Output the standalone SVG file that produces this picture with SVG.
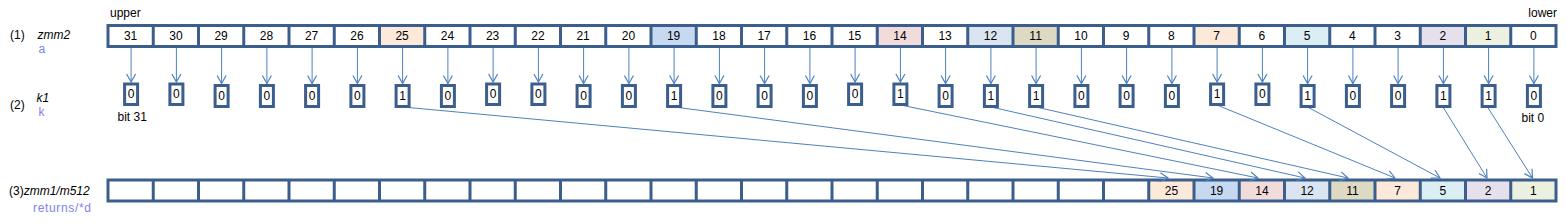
<svg xmlns="http://www.w3.org/2000/svg" width="1566" height="224" viewBox="0 0 1566 224">
<defs>
<marker id="ah" markerUnits="userSpaceOnUse" markerWidth="14" markerHeight="14" viewBox="-10 -7 12 14" refX="0" refY="0" orient="auto">
<path d="M-8,-4.5 L0,0 L-8,4.5" fill="none" stroke="#4F81BD" stroke-width="1.2"/>
</marker>
<style>
text{font-family:"Liberation Sans",Arial,sans-serif;font-size:12px;fill:#000}
.c{text-anchor:middle}
.i{font-style:italic}
.p{fill:#8080F0}
.reg{fill:none;stroke:#3B5E8C;stroke-width:3}
.bx{fill:#fff;stroke:#3B5E8C;stroke-width:3}
.cn line{stroke:#4F81BD;stroke-width:1;fill:none}
</style>
</defs>
<rect width="1566" height="224" fill="#fff"/>

<g id="labels">
<text x="10" y="38.5">(1)</text>
<text x="37.5" y="38.5" class="i">zmm2</text>
<text x="38.5" y="53" class="p">a</text>
<text x="10" y="108.5">(2)</text>
<text x="36.5" y="102" class="i">k1</text>
<text x="38.5" y="116" class="p">k</text>
<text x="9" y="194.5">(3)<tspan class="i">zmm1/m512</tspan></text>
<text x="33" y="211.5" class="p" textLength="58" lengthAdjust="spacing">returns/*d</text>
<text x="110" y="17">upper</text>
<text x="1557" y="17" text-anchor="end">lower</text>
<text x="117.5" y="121">bit 31</text>
<text x="1521.5" y="121.5">bit 0</text>
</g>

<g id="zmm2">
<rect x="379.5" y="25.5" width="45.25" height="21" fill="#FDE9D9"/>
<rect x="651" y="25.5" width="45.25" height="21" fill="#C6D9F1"/>
<rect x="877.25" y="25.5" width="45.25" height="21" fill="#F2DCDB"/>
<rect x="967.75" y="25.5" width="45.25" height="21" fill="#DBE5F1"/>
<rect x="1013" y="25.5" width="45.25" height="21" fill="#DDD9C3"/>
<rect x="1194" y="25.5" width="45.25" height="21" fill="#FDE9D9"/>
<rect x="1284.5" y="25.5" width="45.25" height="21" fill="#DAEEF3"/>
<rect x="1420.25" y="25.5" width="45.25" height="21" fill="#E5E0EC"/>
<rect x="1465.5" y="25.5" width="45.25" height="21" fill="#EBF1DE"/>
<rect class="reg" x="108" y="25.5" width="1448" height="21"/>
<path class="reg" d="M153.25,25.5V46.5M198.5,25.5V46.5M243.75,25.5V46.5M289,25.5V46.5M334.25,25.5V46.5M379.5,25.5V46.5M424.75,25.5V46.5M470,25.5V46.5M515.25,25.5V46.5M560.5,25.5V46.5M605.75,25.5V46.5M651,25.5V46.5M696.25,25.5V46.5M741.5,25.5V46.5M786.75,25.5V46.5M832,25.5V46.5M877.25,25.5V46.5M922.5,25.5V46.5M967.75,25.5V46.5M1013,25.5V46.5M1058.25,25.5V46.5M1103.5,25.5V46.5M1148.75,25.5V46.5M1194,25.5V46.5M1239.25,25.5V46.5M1284.5,25.5V46.5M1329.75,25.5V46.5M1375,25.5V46.5M1420.25,25.5V46.5M1465.5,25.5V46.5M1510.75,25.5V46.5"/>
<text class="c" x="130.6" y="40">31</text>
<text class="c" x="175.9" y="40">30</text>
<text class="c" x="221.1" y="40">29</text>
<text class="c" x="266.4" y="40">28</text>
<text class="c" x="311.6" y="40">27</text>
<text class="c" x="356.9" y="40">26</text>
<text class="c" x="402.1" y="40">25</text>
<text class="c" x="447.4" y="40">24</text>
<text class="c" x="492.6" y="40">23</text>
<text class="c" x="537.9" y="40">22</text>
<text class="c" x="583.1" y="40">21</text>
<text class="c" x="628.4" y="40">20</text>
<text class="c" x="673.6" y="40">19</text>
<text class="c" x="718.9" y="40">18</text>
<text class="c" x="764.1" y="40">17</text>
<text class="c" x="809.4" y="40">16</text>
<text class="c" x="854.6" y="40">15</text>
<text class="c" x="899.9" y="40">14</text>
<text class="c" x="945.1" y="40">13</text>
<text class="c" x="990.4" y="40">12</text>
<text class="c" x="1035.6" y="40">11</text>
<text class="c" x="1080.9" y="40">10</text>
<text class="c" x="1126.1" y="40">9</text>
<text class="c" x="1171.4" y="40">8</text>
<text class="c" x="1216.6" y="40">7</text>
<text class="c" x="1261.9" y="40">6</text>
<text class="c" x="1307.1" y="40">5</text>
<text class="c" x="1352.4" y="40">4</text>
<text class="c" x="1397.6" y="40">3</text>
<text class="c" x="1442.9" y="40">2</text>
<text class="c" x="1488.1" y="40">1</text>
<text class="c" x="1533.4" y="40">0</text>
</g>

<g id="zmm1">
<rect x="1148.75" y="180" width="45.25" height="21" fill="#FDE9D9"/>
<rect x="1194" y="180" width="45.25" height="21" fill="#C6D9F1"/>
<rect x="1239.25" y="180" width="45.25" height="21" fill="#F2DCDB"/>
<rect x="1284.5" y="180" width="45.25" height="21" fill="#DBE5F1"/>
<rect x="1329.75" y="180" width="45.25" height="21" fill="#DDD9C3"/>
<rect x="1375" y="180" width="45.25" height="21" fill="#FDE9D9"/>
<rect x="1420.25" y="180" width="45.25" height="21" fill="#DAEEF3"/>
<rect x="1465.5" y="180" width="45.25" height="21" fill="#E5E0EC"/>
<rect x="1510.75" y="180" width="45.25" height="21" fill="#EBF1DE"/>
<rect class="reg" x="108" y="180" width="1448" height="21"/>
<path class="reg" d="M153.25,180V201M198.5,180V201M243.75,180V201M289,180V201M334.25,180V201M379.5,180V201M424.75,180V201M470,180V201M515.25,180V201M560.5,180V201M605.75,180V201M651,180V201M696.25,180V201M741.5,180V201M786.75,180V201M832,180V201M877.25,180V201M922.5,180V201M967.75,180V201M1013,180V201M1058.25,180V201M1103.5,180V201M1148.75,180V201M1194,180V201M1239.25,180V201M1284.5,180V201M1329.75,180V201M1375,180V201M1420.25,180V201M1465.5,180V201M1510.75,180V201"/>
<text class="c" x="1171.4" y="195">25</text>
<text class="c" x="1216.6" y="195">19</text>
<text class="c" x="1261.9" y="195">14</text>
<text class="c" x="1307.1" y="195">12</text>
<text class="c" x="1352.4" y="195">11</text>
<text class="c" x="1397.6" y="195">7</text>
<text class="c" x="1442.9" y="195">5</text>
<text class="c" x="1488.1" y="195">2</text>
<text class="c" x="1533.4" y="195">1</text>
</g>

<g id="connectors" class="cn">
<line x1="131.1" y1="48" x2="131.1" y2="82" marker-end="url(#ah)"/>
<line x1="176.4" y1="48" x2="176.4" y2="82" marker-end="url(#ah)"/>
<line x1="221.6" y1="48" x2="221.6" y2="83.5" marker-end="url(#ah)"/>
<line x1="266.9" y1="48" x2="266.9" y2="83.5" marker-end="url(#ah)"/>
<line x1="312.1" y1="48" x2="312.1" y2="83.5" marker-end="url(#ah)"/>
<line x1="357.4" y1="48" x2="357.4" y2="83.5" marker-end="url(#ah)"/>
<line x1="402.6" y1="48" x2="402.6" y2="83.5" marker-end="url(#ah)"/>
<line x1="447.9" y1="48" x2="447.9" y2="83.5" marker-end="url(#ah)"/>
<line x1="493.1" y1="48" x2="493.1" y2="82" marker-end="url(#ah)"/>
<line x1="538.4" y1="48" x2="538.4" y2="82" marker-end="url(#ah)"/>
<line x1="583.6" y1="48" x2="583.6" y2="83.5" marker-end="url(#ah)"/>
<line x1="628.9" y1="48" x2="628.9" y2="83.5" marker-end="url(#ah)"/>
<line x1="674.1" y1="48" x2="674.1" y2="83.5" marker-end="url(#ah)"/>
<line x1="719.4" y1="48" x2="719.4" y2="83.5" marker-end="url(#ah)"/>
<line x1="764.6" y1="48" x2="764.6" y2="83.5" marker-end="url(#ah)"/>
<line x1="809.9" y1="48" x2="809.9" y2="83.5" marker-end="url(#ah)"/>
<line x1="855.1" y1="48" x2="855.1" y2="82" marker-end="url(#ah)"/>
<line x1="900.4" y1="48" x2="900.4" y2="82" marker-end="url(#ah)"/>
<line x1="945.6" y1="48" x2="945.6" y2="83.5" marker-end="url(#ah)"/>
<line x1="990.9" y1="48" x2="990.9" y2="83.5" marker-end="url(#ah)"/>
<line x1="1036.1" y1="48" x2="1036.1" y2="83.5" marker-end="url(#ah)"/>
<line x1="1081.4" y1="48" x2="1081.4" y2="83.5" marker-end="url(#ah)"/>
<line x1="1126.6" y1="48" x2="1126.6" y2="83.5" marker-end="url(#ah)"/>
<line x1="1171.9" y1="48" x2="1171.9" y2="83.5" marker-end="url(#ah)"/>
<line x1="1217.1" y1="48" x2="1217.1" y2="82" marker-end="url(#ah)"/>
<line x1="1262.4" y1="48" x2="1262.4" y2="82" marker-end="url(#ah)"/>
<line x1="1307.6" y1="48" x2="1307.6" y2="83.5" marker-end="url(#ah)"/>
<line x1="1352.9" y1="48" x2="1352.9" y2="83.5" marker-end="url(#ah)"/>
<line x1="1398.1" y1="48" x2="1398.1" y2="83.5" marker-end="url(#ah)"/>
<line x1="1443.4" y1="48" x2="1443.4" y2="83.5" marker-end="url(#ah)"/>
<line x1="1488.6" y1="48" x2="1488.6" y2="83.5" marker-end="url(#ah)"/>
<line x1="1533.9" y1="48" x2="1533.9" y2="83.5" marker-end="url(#ah)"/>
<line x1="403" y1="107" x2="1168" y2="178" marker-end="url(#ah)"/>
<line x1="674.5" y1="107" x2="1213" y2="178" marker-end="url(#ah)"/>
<line x1="900.5" y1="105" x2="1258" y2="178" marker-end="url(#ah)"/>
<line x1="991" y1="107" x2="1305" y2="178" marker-end="url(#ah)"/>
<line x1="1036" y1="107" x2="1348" y2="178" marker-end="url(#ah)"/>
<line x1="1217" y1="105" x2="1395" y2="178" marker-end="url(#ah)"/>
<line x1="1307.5" y1="107" x2="1440" y2="178" marker-end="url(#ah)"/>
<line x1="1443" y1="107" x2="1487" y2="178" marker-end="url(#ah)"/>
<line x1="1487.5" y1="107" x2="1532.5" y2="178" marker-end="url(#ah)"/>
</g>

<g id="k1">
<g id="k31"><rect class="bx" x="124.6" y="84" width="13" height="20.5"/><text class="c" x="131.1" y="98">0</text></g>
<g id="k30"><rect class="bx" x="169.9" y="84" width="13" height="20.5"/><text class="c" x="176.4" y="98">0</text></g>
<g id="k29"><rect class="bx" x="215.1" y="85.5" width="13" height="21"/><text class="c" x="221.6" y="100">0</text></g>
<g id="k28"><rect class="bx" x="260.4" y="85.5" width="13" height="21"/><text class="c" x="266.9" y="100">0</text></g>
<g id="k27"><rect class="bx" x="305.6" y="85.5" width="13" height="21"/><text class="c" x="312.1" y="100">0</text></g>
<g id="k26"><rect class="bx" x="350.9" y="85.5" width="13" height="21"/><text class="c" x="357.4" y="100">0</text></g>
<g id="k25"><rect class="bx" x="396.1" y="85.5" width="13" height="21"/><text class="c" x="402.6" y="100">1</text></g>
<g id="k24"><rect class="bx" x="441.4" y="85.5" width="13" height="21"/><text class="c" x="447.9" y="100">0</text></g>
<g id="k23"><rect class="bx" x="486.6" y="84" width="13" height="20.5"/><text class="c" x="493.1" y="98">0</text></g>
<g id="k22"><rect class="bx" x="531.9" y="84" width="13" height="20.5"/><text class="c" x="538.4" y="98">0</text></g>
<g id="k21"><rect class="bx" x="577.1" y="85.5" width="13" height="21"/><text class="c" x="583.6" y="100">0</text></g>
<g id="k20"><rect class="bx" x="622.4" y="85.5" width="13" height="21"/><text class="c" x="628.9" y="100">0</text></g>
<g id="k19"><rect class="bx" x="667.6" y="85.5" width="13" height="21"/><text class="c" x="674.1" y="100">1</text></g>
<g id="k18"><rect class="bx" x="712.9" y="85.5" width="13" height="21"/><text class="c" x="719.4" y="100">0</text></g>
<g id="k17"><rect class="bx" x="758.1" y="85.5" width="13" height="21"/><text class="c" x="764.6" y="100">0</text></g>
<g id="k16"><rect class="bx" x="803.4" y="85.5" width="13" height="21"/><text class="c" x="809.9" y="100">0</text></g>
<g id="k15"><rect class="bx" x="848.6" y="84" width="13" height="20.5"/><text class="c" x="855.1" y="98">0</text></g>
<g id="k14"><rect class="bx" x="893.9" y="84" width="13" height="20.5"/><text class="c" x="900.4" y="98">1</text></g>
<g id="k13"><rect class="bx" x="939.1" y="85.5" width="13" height="21"/><text class="c" x="945.6" y="100">0</text></g>
<g id="k12"><rect class="bx" x="984.4" y="85.5" width="13" height="21"/><text class="c" x="990.9" y="100">1</text></g>
<g id="k11"><rect class="bx" x="1029.6" y="85.5" width="13" height="21"/><text class="c" x="1036.1" y="100">1</text></g>
<g id="k10"><rect class="bx" x="1074.9" y="85.5" width="13" height="21"/><text class="c" x="1081.4" y="100">0</text></g>
<g id="k9"><rect class="bx" x="1120.1" y="85.5" width="13" height="21"/><text class="c" x="1126.6" y="100">0</text></g>
<g id="k8"><rect class="bx" x="1165.4" y="85.5" width="13" height="21"/><text class="c" x="1171.9" y="100">0</text></g>
<g id="k7"><rect class="bx" x="1210.6" y="84" width="13" height="20.5"/><text class="c" x="1217.1" y="98">1</text></g>
<g id="k6"><rect class="bx" x="1255.9" y="84" width="13" height="20.5"/><text class="c" x="1262.4" y="98">0</text></g>
<g id="k5"><rect class="bx" x="1301.1" y="85.5" width="13" height="21"/><text class="c" x="1307.6" y="100">1</text></g>
<g id="k4"><rect class="bx" x="1346.4" y="85.5" width="13" height="21"/><text class="c" x="1352.9" y="100">0</text></g>
<g id="k3"><rect class="bx" x="1391.6" y="85.5" width="13" height="21"/><text class="c" x="1398.1" y="100">0</text></g>
<g id="k2"><rect class="bx" x="1436.9" y="85.5" width="13" height="21"/><text class="c" x="1443.4" y="100">1</text></g>
<g id="k1b"><rect class="bx" x="1482.1" y="85.5" width="13" height="21"/><text class="c" x="1488.6" y="100">1</text></g>
<g id="k0"><rect class="bx" x="1527.4" y="85.5" width="13" height="21"/><text class="c" x="1533.9" y="100">0</text></g>
</g>
</svg>
